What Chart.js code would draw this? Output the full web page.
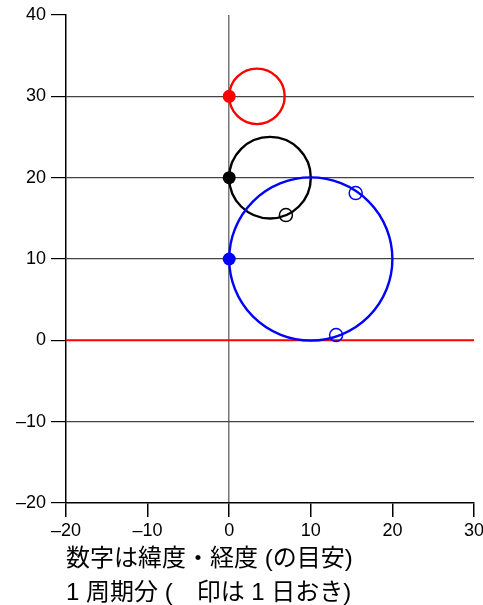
<!DOCTYPE html>
<html>
<head>
<meta charset="utf-8">
<script src="https://cdn.jsdelivr.net/npm/chart.js@4"></script>
<style>
  html, body { margin: 0; padding: 0; background: #fff; }
  #wrap { width: 483px; height: 605px; }
</style>
</head>
<body>
<div id="wrap"><canvas id="orbitChart"></canvas></div>
<script>
// Ground tracks (lon, lat in degrees)
const circleLon = [3.4, 5, 10];
const circleLat = [30, 20, 10];
const circleRad = [3.4, 5, 10];
const circleColors = ['#ff0000', '#000000', '#0000ff'];

// starting points of each track
const startLon = [0, 0, 0];
const startLat = [30, 20, 10];

// one-day markers
const dayBlackLon = [6.95];
const dayBlackLat = [15.4];
const dayBlueLon = [15.5, 13.1];
const dayBlueLat = [18.1, 0.65];

// equator
const equatorLon = [-20, 30];
const equatorLat = [0, 0];

const xTicks = [-20, -10, 0, 10, 20, 30];
const yTicks = [-20, -10, 0, 10, 20, 30, 40];

const noteLines = ['数字は緯度・経度 (の目安)', '1 周期分 (\u3000印は 1 日おき)'];

const toPts = (xs, ys) => xs.map((x, i) => ({ x: x, y: ys[i] }));

// circle radius in pixels, read through the x scale
function radiusPx(ctx) {
    const s = ctx.chart.scales.x;
    const r = circleRad[ctx.dataIndex];
    if (!s || r === undefined) return 0;
    return Math.abs(s.getPixelForValue(r) - s.getPixelForValue(0));
}

const fmt = v => (v < 0 ? '\u2013' + Math.abs(v) : String(v));

Chart.defaults.font.family = '"Liberation Sans", Arial, sans-serif';
Chart.defaults.color = '#000';

new Chart(document.getElementById('orbitChart'), {
    type: 'scatter',
    data: {
        datasets: [
            {
                label: 'start',
                data: toPts(startLon, startLat),
                pointRadius: 6.5,
                pointBackgroundColor: circleColors,
                pointBorderColor: circleColors,
                pointBorderWidth: 0,
                order: 0
            },
            {
                label: 'day black',
                data: toPts(dayBlackLon, dayBlackLat),
                pointRadius: 6.5,
                pointBackgroundColor: 'rgba(0,0,0,0)',
                pointBorderColor: '#000',
                pointBorderWidth: 1.5,
                order: 1
            },
            {
                label: 'day blue',
                data: toPts(dayBlueLon, dayBlueLat),
                pointRadius: 6.5,
                pointBackgroundColor: 'rgba(0,0,0,0)',
                pointBorderColor: '#0000ff',
                pointBorderWidth: 1.5,
                order: 2
            },
            {
                label: 'tracks',
                data: toPts(circleLon, circleLat),
                pointRadius: radiusPx,
                pointHoverRadius: radiusPx,
                pointBackgroundColor: 'rgba(0,0,0,0)',
                pointBorderColor: circleColors,
                pointBorderWidth: 2.4,
                order: 3
            },
            {
                label: 'equator',
                type: 'line',
                data: toPts(equatorLon, equatorLat),
                borderColor: '#ff0000',
                borderWidth: 2,
                pointRadius: 0,
                fill: false,
                order: 4
            }
        ]
    },
    options: {
        responsive: true,
        maintainAspectRatio: false,
        animation: false,
        events: [],
        layout: { padding: { top: 15, right: 9, left: 0, bottom: 0 } },
        plugins: {
            legend: { display: false },
            tooltip: { enabled: false }
        },
        scales: {
            x: {
                type: 'linear',
                min: -20,
                max: 30,
                afterBuildTicks: s => { s.ticks = xTicks.map(v => ({ value: v })); },
                afterFit: s => { s.height = 102; s.paddingLeft = 0; s.paddingRight = 0; },
                border: { color: '#000', width: 1.5 },
                grid: {
                    color: c => (c.tick && c.tick.value === 0 ? '#777' : 'rgba(0,0,0,0)'),
                    tickColor: '#000',
                    lineWidth: 1.5,
                    tickLength: 14
                },
                ticks: {
                    font: { size: 18 },
                    padding: 3,
                    maxRotation: 0,
                    callback: v => fmt(v)
                },
                title: {
                    display: true,
                    text: noteLines,
                    align: 'start',
                    font: { size: 24, family: '"Liberation Sans", "Noto Sans CJK JP", sans-serif', lineHeight: 1.42 },
                    padding: { top: 0, bottom: -5 }
                }
            },
            y: {
                type: 'linear',
                min: -20,
                max: 40,
                afterBuildTicks: s => { s.ticks = yTicks.map(v => ({ value: v })); },
                afterFit: s => { s.width = 66; s.paddingTop = 0; s.paddingBottom = 0; },
                border: { color: '#000', width: 1.5 },
                grid: {
                    color: c => {
                        const v = c.tick ? c.tick.value : null;
                        return (v === 40 || v === -20 || v === 0) ? 'rgba(0,0,0,0)' : '#444';
                    },
                    tickColor: '#000',
                    lineWidth: 1.2,
                    tickLength: 15
                },
                ticks: {
                    font: { size: 18 },
                    padding: 5,
                    callback: v => fmt(v)
                }
            }
        }
    }
});
</script>
</body>
</html>
